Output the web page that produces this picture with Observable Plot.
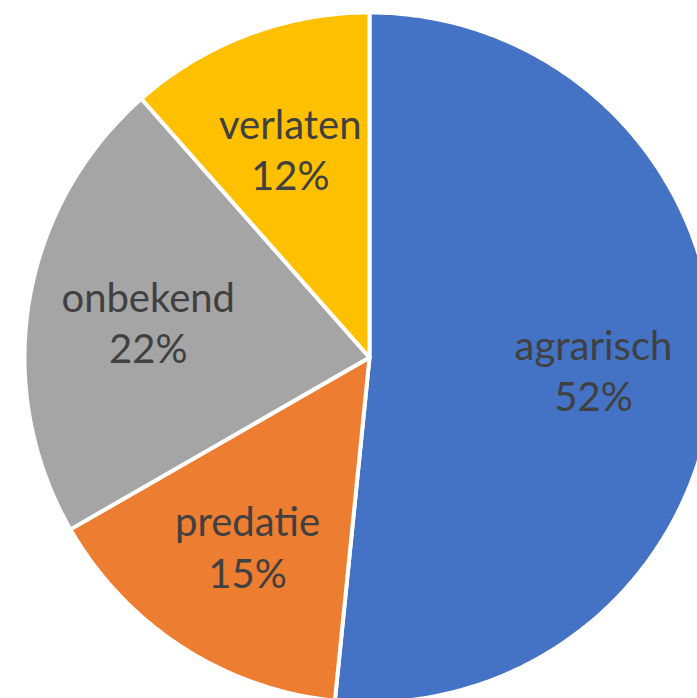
<!DOCTYPE html>
<html>
<head>
<meta charset="utf-8">
<script src="https://cdn.jsdelivr.net/npm/d3@7"></script>
<script src="https://cdn.jsdelivr.net/npm/@observablehq/plot@0.6"></script>
<style>
  html, body { margin: 0; padding: 0; background: #fff; overflow: hidden; }
</style>
</head>
<body>
<div id="chart"></div>
<script>
// Data
const categories = ["agrarisch", "predatie", "onbekend", "verlaten"];
const values = [51.6, 15.1, 21.8, 11.5];
const percentLabels = ["52%", "15%", "22%", "12%"];
const colors = ["#4472C4", "#ED7D31", "#A5A5A5", "#FFC000"];

const rows = categories.map((name, i) => ({name, value: values[i], pct: percentLabels[i]}));
const arcs = d3.pie().sort(null).value(d => d.value).startAngle(0).endAngle(2 * Math.PI)(rows);

// Polygon outline of each slice (unit circle coordinates)
const outline = [];
for (const a of arcs) {
  outline.push({name: a.data.name, x: 0, y: 0});
  const n = Math.max(8, Math.ceil((a.endAngle - a.startAngle) / 0.01));
  for (let k = 0; k <= n; k++) {
    const t = a.startAngle + (a.endAngle - a.startAngle) * k / n;
    outline.push({name: a.data.name, x: Math.sin(t), y: Math.cos(t)});
  }
}

const labelRadius = 0.65;
const labels = arcs.map(a => {
  const m = (a.startAngle + a.endAngle) / 2;
  return {name: a.data.name, text: a.data.name + "\n" + a.data.pct,
          x: labelRadius * Math.sin(m), y: labelRadius * Math.cos(m)};
});

const cx = 369, cy = 357, r = 345;
const chart = Plot.plot({
  width: 697,
  height: 698,
  margin: 0,
  x: {domain: [-1, 1], range: [cx - r, cx + r], axis: null},
  y: {domain: [-1, 1], range: [cy + r, cy - r], axis: null},
  color: {domain: categories, range: colors},
  marks: [
    Plot.line(outline, {x: "x", y: "y", z: "name", fill: "name", stroke: "white", strokeWidth: 4, curve: "linear-closed", strokeLinejoin: "round"}),
    Plot.text(labels, {x: "x", y: "y", text: "text", fontSize: 40, fontFamily: "Lato", fill: "#404040", lineHeight: 1.28})
  ]
});
document.getElementById("chart").appendChild(chart);
</script>
</body>
</html>
